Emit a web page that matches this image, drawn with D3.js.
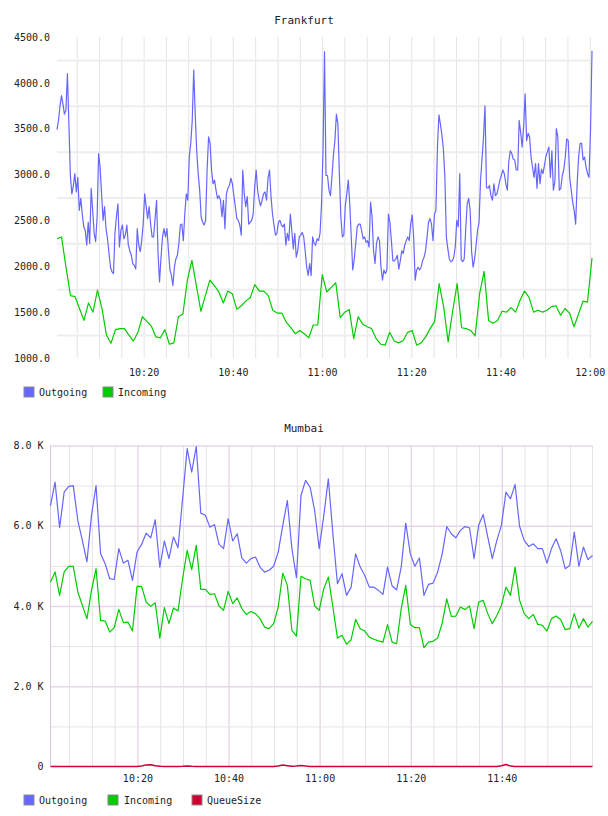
<!DOCTYPE html>
<html>
<head>
<meta charset="utf-8">
<script src="https://cdn.jsdelivr.net/npm/d3@7"></script>
<style>
  html, body { margin: 0; padding: 0; background: #fff; }
  svg { display: block; }
  text { font-family: "DejaVu Sans Mono", monospace; fill: #222; }
</style>
</head>
<body>
<svg id="chart" width="608" height="816"></svg>
<script>
// ---- Frankfurt: outgoing sampled ~every 20s, incoming ~every minute ----
const fraOutgoing = [
  3490, 3590, 3740, 3860, 3770, 3660, 3700, 4100, 3550, 2990,
  2790, 2880, 3010, 2810, 2970, 2610, 2740, 2570, 2430, 2390,
  2230, 2480, 2250, 2850, 2610, 2360, 2270, 2540, 3230, 3080,
  2790, 2500, 2650, 2410, 2300, 2140, 1990, 1940, 1920, 2360,
  2540, 2680, 2210, 2390, 2450, 2300, 2340, 2450, 2230, 2170,
  2120, 2030, 2010, 1970, 2410, 2230, 2160, 2280, 2460, 2790,
  2650, 2520, 2650, 2460, 2320, 2320, 2520, 2720, 2140, 1830,
  2100, 2320, 2410, 2320, 2410, 2170, 1960, 1900, 1790, 1990,
  2080, 2120, 2250, 2450, 2460, 2280, 2570, 2790, 2720, 3190,
  3340,
  3590, 4140, 3660, 3260, 3010, 2830, 2540, 2480, 2450, 2500,
  3050, 3410, 3340, 3050, 2900, 2940, 2830, 2740, 2770, 2720,
  2540, 2720, 2410, 2790, 2850, 2880, 2960, 2900, 2770, 2650,
  2520, 2500, 2450, 2340, 3050, 2790, 2650, 2760, 2460, 2480,
  2500, 2570, 2860, 3050, 2830, 2720, 2660, 2720, 2790, 2810,
  2720, 2960, 3050, 2760, 2570, 2450, 2340, 2360, 2480, 2500,
  2450, 2430, 2460, 2230, 2360, 2280, 2570, 2390, 2190, 2360,
  2100, 2170, 2320, 2340, 2370, 2320, 2170, 1990, 1900, 2030,
  1900, 2320, 2250, 2230, 2300, 2280, 2360, 2680, 3260, 4340,
  2990, 2990, 2830, 2770, 2970, 3210, 3370, 3660, 3550, 3010,
  2540, 2320, 2340, 2660, 2790, 2940, 2680, 2320, 1960, 2070,
  2250, 2430, 2460, 2460, 2390, 2300, 2320, 2260, 2280, 2210,
  2700, 2540, 2170, 2030, 2250, 2320, 2280, 1990, 1850, 1960,
  1920, 1960, 2570, 2480, 2280, 2060, 2060, 2080, 2120, 1970,
  2060, 2170, 2140, 2230, 2280, 2320, 2280, 2460, 2560, 2320,
  1850, 1960, 1990, 1960, 1990, 2060, 2100, 2170, 2320, 2480,
  2520, 2460, 2280, 2570, 2610, 3300, 3650, 3550, 3430, 3280,
  2970, 2320, 2190, 2080, 2050, 2060, 2100, 2210, 2500,
  2430, 3010, 2070, 2050, 2080, 2390, 2680, 2740, 2610, 2160,
  1990, 2080, 2230, 2390, 2480, 2940, 3170, 3410, 3750, 2860,
  2850, 2880, 2770, 2720, 2900, 2770, 2790, 2860, 2940, 2990,
  3050, 3010, 2900, 2830, 3140, 3260, 3230, 3170, 3160, 3050,
  3050, 3590, 3460, 3300, 3520, 3880, 3370, 3450, 3410, 3190,
  3080, 2970, 3120, 2850, 3120, 2900, 3060, 3010, 3100, 3200,
  3250, 3300, 2970, 3260, 2830, 2920, 3500, 3410, 2830, 2850,
  2990, 3050, 3190, 3390, 3370, 2970, 2830, 2700, 2610, 2460,
  2900, 3190, 3340, 3340, 3160, 3190, 3080, 3010, 2970, 3480,
  4350
]

const fraIncoming = [
  2300, 2320, 1990, 1680, 1670, 1540, 1410, 1600, 1500, 1740,
  1540, 1250, 1160, 1310, 1320, 1320, 1250, 1185, 1280, 1450,
  1400, 1345, 1230, 1220, 1310, 1150, 1165, 1450, 1480, 1850,
  2065, 1790, 1510, 1680, 1850, 1790, 1720, 1600, 1730, 1700,
  1530, 1570, 1620, 1660, 1800, 1730, 1730, 1680, 1520, 1490,
  1490, 1390, 1330, 1265, 1300, 1265, 1220, 1360, 1360, 1910,
  1720, 1770, 1820, 1440, 1500, 1530, 1210, 1450, 1370, 1340,
  1320, 1210, 1150, 1140, 1280, 1185, 1165, 1190, 1280, 1300,
  1140, 1165, 1230, 1320, 1400, 1810, 1560, 1175, 1510, 1810,
  1330, 1320, 1300, 1240, 1700, 1945, 1410, 1380, 1410, 1510,
  1500, 1550, 1500, 1630, 1730, 1660, 1500, 1520, 1500, 1520,
  1560, 1570, 1465, 1540, 1490, 1340, 1480, 1620, 1610, 2090
]

// ---- Mumbai: one sample per minute ----
const mumOutgoing = [
  6500, 7090, 5950, 6840, 6980, 7000, 6130, 5630, 5100, 6260,
  7000, 5300, 5055, 4680, 4660, 5430, 5070, 5140, 4640, 5345,
  5535, 5815, 5700, 6150, 4970, 5620, 5180, 5720, 5450, 6670,
  7920, 7335, 7975, 6315, 6260, 5965, 6030, 5535, 5430, 6175,
  5620, 5800, 5200, 5070, 5180, 5220, 4970, 4845, 4890, 4990,
  5345, 6010, 6630, 5430, 4705, 6755, 7130, 6960, 6380, 5430,
  6250, 7170, 5800, 4555, 4805, 4265, 4470, 5300, 4970, 4760,
  4470, 4470, 4390, 4290, 4970, 4500, 4405, 4970, 6065, 5300,
  4990, 5195, 4265, 4540, 4570, 4845, 5300, 5980, 5800, 5700,
  5885, 5980, 5950, 5180, 6010, 6280, 5720, 5180, 5635, 6010,
  6840, 6670, 7030, 5980, 5635, 5485, 5550, 5430, 5430, 5070,
  5430, 5675, 5385, 4930, 5010, 5840, 4990, 5470, 5155, 5260
]

const mumIncoming = [
  4600, 4850, 4265, 4850, 4990, 4990, 4350, 4015, 3680, 4390,
  4930, 3640, 3625, 3350, 3460, 3915, 3585, 3600, 3375, 4490,
  4490, 4100, 3990, 4080, 3200, 3960, 3560, 3950, 3875, 4680,
  5385, 4905, 5510, 4415, 4415, 4290, 4305, 4000, 3890, 4365,
  4060, 4200, 3935, 3790, 3865, 3810, 3685, 3475, 3435, 3560,
  3975, 4820, 4515, 3395, 3250, 4740, 4680, 4640, 4000, 3890,
  4430, 4720, 3975, 3200, 3270, 3045, 3160, 3665, 3435, 3375,
  3225, 3170, 3130, 3100, 3535, 3100, 3060, 3935, 4515, 3540,
  3460, 3460, 2960, 3100, 3120, 3200, 3575, 4180, 3740, 3750,
  3975, 3910, 4000, 3435, 4100, 4140, 3810, 3560, 3765, 4015,
  4470, 4265, 4970, 4140, 3810, 3685, 3790, 3540, 3520, 3375,
  3685, 3750, 3665, 3410, 3435, 3810, 3450, 3685, 3475, 3615
]

const mumQueue = [
  0, 0, 0, 0, 0, 0, 0, 0, 0, 0,
  0, 0, 0, 0, 0, 0, 0, 0, 0, 0,
  10, 40, 45, 20, 5, 0, 0, 0, 0, 5,
  15, 5, 0, 0, 0, 0, 0, 0, 0, 0,
  0, 0, 0, 0, 0, 0, 0, 0, 0, 0,
  15, 35, 20, 5, 10, 25, 10, 0, 0, 0,
  0, 0, 0, 0, 0, 0, 0, 0, 0, 0,
  0, 0, 0, 0, 0, 0, 0, 0, 0, 0,
  0, 0, 0, 0, 0, 0, 0, 0, 0, 0,
  0, 0, 0, 0, 0, 0, 0, 0, 0, 20,
  50, 10, 0, 0, 0, 0, 0, 0, 0, 0,
  0, 0, 0, 0, 0, 0, 0, 0, 0, 0
]

const fraYLabels = [1000, 1500, 2000, 2500, 3000, 3500, 4000, 4500]
const fraYGrid = [1250, 1750, 2250, 2750, 3250, 3750, 4250]
const mumYLabels = [0, 2000, 4000, 6000, 8000]
const mumYGrid = [1000, 2000, 3000, 4000, 5000, 6000, 7000, 8000]

const COLORS = { out: '#6666ff', inc: '#00cc00', queue: '#cc0033' }

const at = (h, m, s = 0) => new Date(2020, 0, 1, h, m, s)

// spread a series evenly over its time span
const spread = (values, t0, t1) =>
  values.map((v, i) => ({ t: new Date(+t0 + (i * (t1 - t0)) / (values.length - 1)), v }))

const svg = d3.select('#chart')
svg.append('rect').attr('width', 608).attr('height', 816).attr('fill', '#fff')

const styleGrid = (g, color, width) => {
  g.select('.domain').remove()
  g.selectAll('text').remove()
  g.selectAll('line').attr('stroke', color).attr('stroke-width', width)
}

const drawLine = (g, data, x, y, color, width = 1.2) => {
  g.append('path')
    .datum(data)
    .attr('fill', 'none')
    .attr('stroke', color)
    .attr('stroke-width', width)
    .attr('stroke-linejoin', 'round')
    .attr('d', d3.line().x(d => x(d.t)).y(d => y(d.v)))
}

const drawLegend = (items, cy) => {
  items.forEach(({ label, color, x, tx }) => {
    svg.append('rect')
      .attr('x', x).attr('y', cy - 5).attr('width', 10).attr('height', 10)
      .attr('fill', color).attr('stroke', '#8a8a8a').attr('stroke-width', 1)
    svg.append('text')
      .attr('x', tx).attr('y', cy + 4)
      .attr('font-size', 10)
      .text(label)
  })
}

const drawTitle = (label, cy) => {
  svg.append('text')
    .attr('x', 304).attr('y', cy + 4)
    .attr('text-anchor', 'middle')
    .attr('font-size', 11)
    .text(label)
}

// ================= Frankfurt =================
const fra = { left: 57, right: 592, top: 37, bottom: 358 }
const fraT0 = at(10, 0, 35)
const fraT1 = at(12, 0, 30)
const xFra = d3.scaleTime().domain([fraT0, fraT1]).range([fra.left, fra.right])
const yFra = d3.scaleLinear().domain([1000, 4500]).range([fra.bottom, fra.top])

drawTitle('Frankfurt', 20)

svg.append('g')
  .attr('transform', `translate(0,${fra.bottom})`)
  .call(d3.axisBottom(xFra).ticks(d3.timeMinute.every(5)).tickSize(-(fra.bottom - fra.top)).tickFormat(''))
  .call(g => styleGrid(g, '#e4e4e4', 1))

svg.append('g')
  .attr('transform', `translate(${fra.left},0)`)
  .call(d3.axisLeft(yFra).tickValues(fraYGrid).tickSize(-(fra.right - fra.left)).tickFormat(''))
  .call(g => styleGrid(g, '#eeeeee', 2))

svg.append('g')
  .attr('transform', `translate(${fra.left},0)`)
  .call(d3.axisLeft(yFra).tickValues(fraYLabels).tickSize(0).tickPadding(7).tickFormat(d3.format('.1f')))
  .call(g => g.select('.domain').remove())
  .call(g => g.selectAll('text').attr('font-size', 10).attr('font-family', '"DejaVu Sans Mono", monospace').attr('fill', '#222'))

svg.append('g')
  .attr('transform', `translate(0,${fra.bottom})`)
  .call(d3.axisBottom(xFra).ticks(d3.timeMinute.every(20)).tickFormat(d3.timeFormat('%H:%M')).tickSize(0).tickPadding(11))
  .call(g => g.select('.domain').remove())
  .call(g => g.selectAll('text').attr('font-size', 10).attr('font-family', '"DejaVu Sans Mono", monospace').attr('fill', '#222'))

const fraPlot = svg.append('g')
drawLine(fraPlot, spread(fraIncoming, fraT0, fraT1), xFra, yFra, COLORS.inc)
drawLine(fraPlot, spread(fraOutgoing, fraT0, fraT1), xFra, yFra, COLORS.out)

drawLegend([
  { label: 'Outgoing', color: COLORS.out, x: 24, tx: 39 },
  { label: 'Incoming', color: COLORS.inc, x: 103, tx: 118 }
], 392)

// ================= Mumbai =================
const mum = { left: 50.5, right: 592.5, top: 445.5, bottom: 766.5 }
const mumT0 = at(10, 0, 55)
const mumT1 = at(11, 59, 55)
const xMum = d3.scaleTime().domain([mumT0, mumT1]).range([mum.left, mum.right])
const yMum = d3.scaleLinear().domain([0, 8000]).range([mum.bottom, mum.top])

drawTitle('Mumbai', 428)

svg.append('g')
  .attr('transform', `translate(0,${mum.bottom})`)
  .call(d3.axisBottom(xMum).ticks(d3.timeMinute.every(5)).tickSize(-(mum.bottom - mum.top)).tickFormat(''))
  .call(g => styleGrid(g, '#e6e2e6', 1))
  .call(g => g.selectAll('.tick')
    .filter(d => d.getMinutes() % 20 === 0)
    .select('line').attr('stroke', '#dcc6dc'))

svg.append('g')
  .attr('transform', `translate(${mum.left},0)`)
  .call(d3.axisLeft(yMum).tickValues(mumYGrid).tickSize(-(mum.right - mum.left)).tickFormat(''))
  .call(g => styleGrid(g, '#e8e2e8', 1))
  .call(g => g.selectAll('.tick')
    .filter(d => d % 2000 === 0)
    .select('line').attr('stroke', '#e6d6e6').attr('stroke-width', 1.5))

// frame edges
svg.append('line')
  .attr('x1', mum.left).attr('x2', mum.left).attr('y1', mum.top).attr('y2', mum.bottom)
  .attr('stroke', '#dcc6dc').attr('stroke-width', 1)
svg.append('line')
  .attr('x1', mum.right).attr('x2', mum.right).attr('y1', mum.top).attr('y2', mum.bottom)
  .attr('stroke', '#e6e2e6').attr('stroke-width', 1)

svg.append('g')
  .attr('transform', `translate(${mum.left},0)`)
  .call(d3.axisLeft(yMum).tickValues(mumYLabels).tickSize(0).tickPadding(7)
    .tickFormat(v => v === 0 ? '0' : `${(v / 1000).toFixed(1)} K`))
  .call(g => g.select('.domain').remove())
  .call(g => g.selectAll('text').attr('font-size', 10).attr('font-family', '"DejaVu Sans Mono", monospace').attr('fill', '#222'))

svg.append('g')
  .attr('transform', `translate(0,${mum.bottom})`)
  .call(d3.axisBottom(xMum).ticks(d3.timeMinute.every(20)).tickFormat(d3.timeFormat('%H:%M')).tickSize(0).tickPadding(8))
  .call(g => g.select('.domain').remove())
  .call(g => g.selectAll('text').attr('font-size', 10).attr('font-family', '"DejaVu Sans Mono", monospace').attr('fill', '#222'))

const mumPlot = svg.append('g')
drawLine(mumPlot, spread(mumIncoming, mumT0, mumT1), xMum, yMum, COLORS.inc)
drawLine(mumPlot, spread(mumOutgoing, mumT0, mumT1), xMum, yMum, COLORS.out)
drawLine(mumPlot, spread(mumQueue, mumT0, mumT1), xMum, yMum, COLORS.queue, 1.5)

drawLegend([
  { label: 'Outgoing', color: COLORS.out, x: 24, tx: 39 },
  { label: 'Incoming', color: COLORS.inc, x: 108, tx: 124 },
  { label: 'QueueSize', color: COLORS.queue, x: 192, tx: 207 }
], 800)
</script>
</body>
</html>
